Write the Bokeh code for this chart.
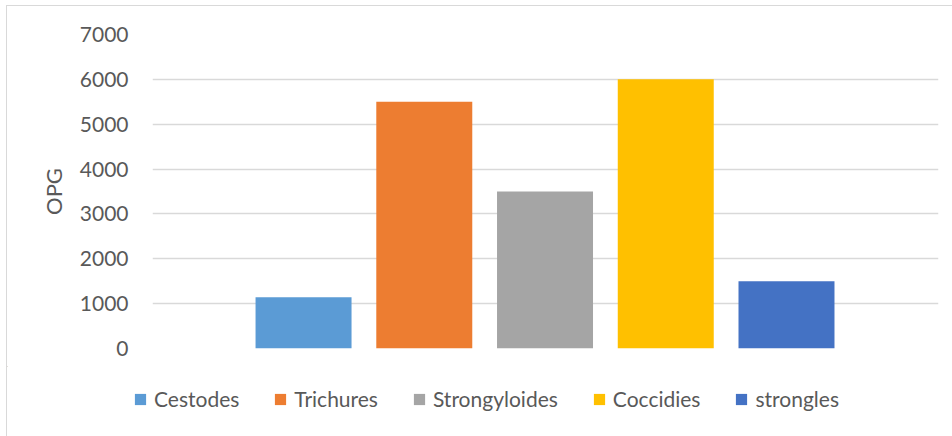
from bokeh.plotting import figure
from bokeh.layouts import column
from bokeh.models import Range1d, FixedTicker, Legend, LegendItem, ColumnDataSource
from bokeh.embed import file_html
from bokeh.resources import INLINE

series = ["Cestodes", "Trichures", "Strongyloides", "Coccidies", "strongles"]
values = [1140, 5500, 3500, 6000, 1500]
colors = ["#5B9BD5", "#ED7D31", "#A5A5A5", "#FFC000", "#4472C4"]
y_ticks = [0, 1000, 2000, 3000, 4000, 5000, 6000, 7000]

FONT = "Lato"
TXT = "#595959"

# ---- chart ----
p = figure(width=945, height=360, output_backend="svg", toolbar_location=None,
           x_range=Range1d(-1.251, 5.259), y_range=Range1d(0, 7000),
           x_axis_location=None, frame_align=False,
           min_border_left=145, min_border_right=14, min_border_top=28, min_border_bottom=18)
p.outline_line_color = None
p.xgrid.visible = False
p.ygrid.grid_line_color = "#d9d9d9"
p.ygrid.grid_line_width = 1.3
p.yaxis.ticker = FixedTicker(ticks=y_ticks)
p.yaxis.axis_line_color = None
p.yaxis.major_tick_line_color = None
p.yaxis.minor_tick_line_color = None
p.yaxis.major_tick_out = 0
p.yaxis.major_label_standoff = 24
p.yaxis.major_label_text_font = FONT
p.yaxis.major_label_text_font_size = "21px"
p.yaxis.major_label_text_color = TXT
p.yaxis.axis_label = "OPG"
p.yaxis.axis_label_text_font = FONT
p.yaxis.axis_label_text_font_size = "22px"
p.yaxis.axis_label_text_font_style = "normal"
p.yaxis.axis_label_text_color = TXT
p.yaxis.axis_label_standoff = 10

# ---- legend strip (its own figure so the legend is not clipped by the chart frame) ----
q = figure(width=945, height=70, output_backend="svg", toolbar_location=None,
           x_range=Range1d(1000, 1001), y_range=Range1d(-100000, -99999),
           x_axis_location=None, y_axis_location=None, frame_align=False,
           min_border_left=0, min_border_right=0, min_border_top=0, min_border_bottom=0)
q.outline_line_color = None
q.grid.visible = False

items = []
for i, (name, v, c) in enumerate(zip(series, values, colors)):
    src = ColumnDataSource(dict(x=[i], top=[v]))
    p.vbar(x="x", top="top", bottom=0, width=0.795, source=src,
           fill_color=c, line_color=None)
    rq = q.vbar(x="x", top="top", bottom=0, width=0.795, source=src,
                fill_color=c, line_color=None)
    items.append(LegendItem(label=name, renderers=[rq]))

legend = Legend(items=items, orientation="horizontal", location=(126, 25),
                padding=0, margin=0, spacing=34, glyph_width=14, glyph_height=14,
                label_standoff=7, border_line_color=None, background_fill_alpha=0,
                label_text_font=FONT, label_text_font_size="21px", label_text_color=TXT)
q.add_layout(legend, "center")

layout = column(p, q, spacing=0,
                styles={"margin-left": "6px", "margin-top": "5px",
                        "border-left": "1px solid #d9d9d9", "border-top": "1px solid #d9d9d9"})

open("out.html", "w").write(file_html(layout, INLINE))
